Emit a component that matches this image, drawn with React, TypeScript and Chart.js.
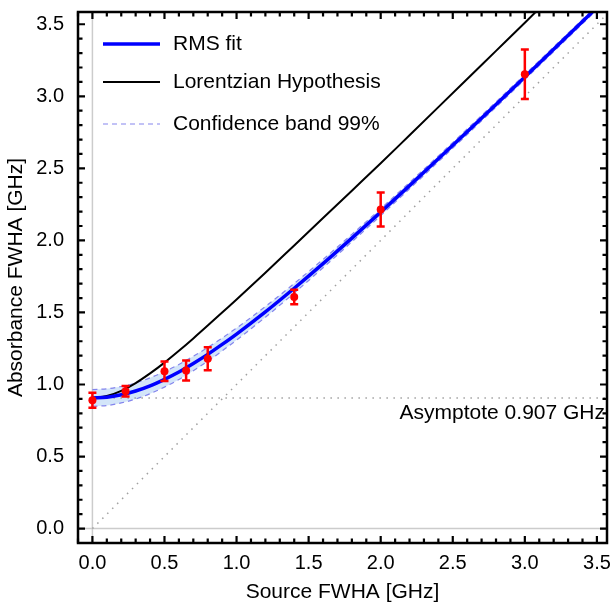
import React, { useEffect, useRef } from "react";
import { Chart, registerables } from "chart.js";

Chart.register(...registerables);

// ---- data ----
const gridX = [0, 0.1, 0.2, 0.3, 0.4, 0.5, 0.6, 0.7, 0.8, 0.9, 1.0, 1.2, 1.4, 1.6, 1.8, 2.0, 2.2, 2.4, 2.6, 2.8, 3.0, 3.2, 3.4, 3.6];
const rmsFit = [0.907, 0.912, 0.929, 0.955, 0.991, 1.036, 1.087, 1.146, 1.209, 1.278, 1.35, 1.504, 1.668, 1.839, 2.016, 2.196, 2.38, 2.566, 2.754, 2.943, 3.134, 3.326, 3.519, 3.712];
const bandUpper = [0.965, 0.97, 0.986, 1.011, 1.046, 1.09, 1.139, 1.196, 1.257, 1.323, 1.392, 1.541, 1.701, 1.868, 2.042, 2.22, 2.402, 2.586, 2.773, 2.961, 3.151, 3.342, 3.534, 3.726];
const bandLower = [0.849, 0.854, 0.872, 0.899, 0.936, 0.982, 1.035, 1.096, 1.161, 1.233, 1.308, 1.467, 1.635, 1.81, 1.99, 2.172, 2.358, 2.546, 2.735, 2.925, 3.117, 3.31, 3.504, 3.698];
const lorentzian = [0.907, 0.92, 0.956, 1.01, 1.077, 1.152, 1.234, 1.32, 1.409, 1.5, 1.59, 1.775, 1.965, 2.155, 2.345, 2.535, 2.73, 2.925, 3.12, 3.315, 3.51, 3.71, 3.91, 4.11];

const sourceFwha = [0, 0.23, 0.5, 0.65, 0.8, 1.4, 2.0, 3.0];
const absorbanceFwha = [0.89, 0.953, 1.092, 1.097, 1.178, 1.607, 2.215, 3.153];
const absorbanceErr = [0.052, 0.037, 0.067, 0.07, 0.08, 0.05, 0.118, 0.171];

const asymptote = 0.907;
const tickValues = [0, 0.5, 1.0, 1.5, 2.0, 2.5, 3.0, 3.5];
const legendLabels = ["RMS fit", "Lorentzian Hypothesis", "Confidence band 99%"];
const asymptoteLabel = "Asymptote 0.907 GHz";
const xTitle = "Source FWHA [GHz]";
const yTitle = "Absorbance FWHA [GHz]";

const X_MIN = -0.1;
const X_MAX = 3.57;
const Y_MIN = -0.1;
const Y_MAX = 3.585;

const FONT = "'Liberation Sans', Arial, Helvetica, sans-serif";
const BLUE = "#0000ff";
const BAND_LINE = "rgba(120,120,235,0.9)";
const BAND_FILL = "rgba(200,222,248,0.8)";
const DOT_GRAY = "#a0a0a0";

export default function App() {
  const ref = useRef<HTMLCanvasElement>(null);

  useEffect(() => {
    const canvas = ref.current;
    if (!canvas) return;
    const pts = (ys: number[]) => gridX.map((x, i) => ({ x, y: ys[i] }));

    const decor = {
      id: "decor",
      beforeDatasetsDraw(chart: any) {
        const { ctx, chartArea: a, scales } = chart;
        const xs = scales.x, ys = scales.y;
        ctx.save();
        ctx.strokeStyle = "#cccccc";
        ctx.lineWidth = 1.5;
        const x0 = xs.getPixelForValue(0);
        const y0 = ys.getPixelForValue(0);
        ctx.beginPath();
        ctx.moveTo(x0, a.top);
        ctx.lineTo(x0, a.bottom);
        ctx.moveTo(a.left, y0);
        ctx.lineTo(a.right, y0);
        ctx.stroke();
        ctx.restore();
      },
      afterDatasetsDraw(chart: any) {
        const { ctx, chartArea: a, scales } = chart;
        const xs = scales.x, ys = scales.y;
        ctx.save();
        // error bars
        ctx.strokeStyle = "#ff0000";
        ctx.lineWidth = 2.5;
        sourceFwha.forEach((sx, i) => {
          const px = xs.getPixelForValue(sx);
          const pTop = ys.getPixelForValue(absorbanceFwha[i] + absorbanceErr[i]);
          const pBot = ys.getPixelForValue(absorbanceFwha[i] - absorbanceErr[i]);
          ctx.beginPath();
          ctx.moveTo(px, pTop);
          ctx.lineTo(px, pBot);
          ctx.moveTo(px - 4, pTop);
          ctx.lineTo(px + 4, pTop);
          ctx.moveTo(px - 4, pBot);
          ctx.lineTo(px + 4, pBot);
          ctx.stroke();
        });

        // frame ticks (inward)
        ctx.strokeStyle = "#000";
        ctx.lineWidth = 2.2;
        ctx.beginPath();
        for (let k = -1; k <= 35; k++) {
          const v = k / 10;
          const major = k % 5 === 0;
          const len = major ? 7 : 4.5;
          if (v >= X_MIN && v <= X_MAX) {
            const px = xs.getPixelForValue(v);
            ctx.moveTo(px, a.bottom);
            ctx.lineTo(px, a.bottom - len);
            ctx.moveTo(px, a.top);
            ctx.lineTo(px, a.top + len);
          }
          if (v >= Y_MIN && v <= Y_MAX) {
            const py = ys.getPixelForValue(v);
            ctx.moveTo(a.left, py);
            ctx.lineTo(a.left + len, py);
            ctx.moveTo(a.right, py);
            ctx.lineTo(a.right - len, py);
          }
        }
        ctx.stroke();

        // frame
        ctx.lineWidth = 2.5;
        ctx.strokeRect(a.left, a.top, a.right - a.left, a.bottom - a.top);

        // legend
        ctx.font = `21px ${FONT}`;
        ctx.textBaseline = "middle";
        ctx.textAlign = "left";
        ctx.fillStyle = "#000";
        const lx0 = a.left + 25;
        const lx1 = a.left + 82;
        const tx = a.left + 95;
        const rows = [a.top + 32, a.top + 70, a.top + 112];
        // RMS fit
        ctx.strokeStyle = BLUE;
        ctx.lineWidth = 3.5;
        ctx.setLineDash([]);
        ctx.beginPath();
        ctx.moveTo(lx0, rows[0]);
        ctx.lineTo(lx1, rows[0]);
        ctx.stroke();
        ctx.fillText(legendLabels[0], tx, rows[0]);
        // Lorentzian
        ctx.strokeStyle = "#000";
        ctx.lineWidth = 2;
        ctx.beginPath();
        ctx.moveTo(lx0, rows[1]);
        ctx.lineTo(lx1, rows[1]);
        ctx.stroke();
        ctx.fillText(legendLabels[1], tx, rows[1]);
        // Confidence band
        ctx.strokeStyle = BAND_LINE;
        ctx.lineWidth = 1.2;
        ctx.setLineDash([5, 4]);
        ctx.beginPath();
        ctx.moveTo(lx0, rows[2]);
        ctx.lineTo(lx1, rows[2]);
        ctx.stroke();
        ctx.setLineDash([]);
        ctx.fillText(legendLabels[2], tx, rows[2]);

        // asymptote label
        ctx.textAlign = "right";
        ctx.fillText(asymptoteLabel, a.right - 2, ys.getPixelForValue(asymptote) + 15);
        ctx.restore();
      },
    };

    const chart = new Chart(canvas, {
      type: "scatter",
      data: {
        datasets: [
          {
            label: "Data",
            data: sourceFwha.map((x, i) => ({ x, y: absorbanceFwha[i] })),
            pointRadius: 4,
            pointBackgroundColor: "#ff0000",
            pointBorderWidth: 0,
            order: 0,
          },
          {
            label: legendLabels[0],
            data: pts(rmsFit),
            showLine: true,
            borderColor: BLUE,
            borderWidth: 3.5,
            pointRadius: 0,
            cubicInterpolationMode: "monotone",
            order: 1,
          },
          {
            label: legendLabels[1],
            data: pts(lorentzian),
            showLine: true,
            borderColor: "#000",
            borderWidth: 2,
            pointRadius: 0,
            cubicInterpolationMode: "monotone",
            order: 2,
          },
          {
            label: legendLabels[2],
            data: pts(bandUpper),
            showLine: true,
            borderColor: BAND_LINE,
            borderWidth: 1.2,
            borderDash: [5, 4],
            pointRadius: 0,
            cubicInterpolationMode: "monotone",
            fill: "+1",
            backgroundColor: BAND_FILL,
            order: 4,
          },
          {
            label: "band lower",
            data: pts(bandLower),
            showLine: true,
            borderColor: BAND_LINE,
            borderWidth: 1.2,
            borderDash: [5, 4],
            pointRadius: 0,
            cubicInterpolationMode: "monotone",
            order: 5,
          },
          {
            label: "asymptote",
            data: [
              { x: 0, y: asymptote },
              { x: X_MAX, y: asymptote },
            ],
            showLine: true,
            borderColor: DOT_GRAY,
            borderWidth: 1.5,
            borderDash: [1.5, 5.5],
            pointRadius: 0,
            order: 3,
          },
          {
            label: "identity",
            data: [
              { x: 0, y: 0 },
              { x: X_MAX, y: X_MAX },
            ],
            showLine: true,
            borderColor: DOT_GRAY,
            borderWidth: 1.5,
            borderDash: [1.5, 5.5],
            pointRadius: 0,
            order: 3,
          },
        ],
      },
      options: {
        animation: false,
        responsive: false,
        devicePixelRatio: 1,
        layout: { padding: { left: 0, right: 3, top: 12, bottom: 0 } },
        plugins: {
          legend: { display: false },
          tooltip: { enabled: false },
          filler: { drawTime: "beforeDatasetsDraw" },
        } as any,
        scales: {
          x: {
            type: "linear",
            min: X_MIN,
            max: X_MAX,
            grid: { display: false },
            border: { display: false },
            afterBuildTicks: (s: any) => {
              s.ticks = tickValues.map((v) => ({ value: v }));
            },
            afterFit: (s: any) => {
              s.height = 62;
              s.paddingLeft = 0;
              s.paddingRight = 0;
            },
            ticks: {
              font: { family: FONT, size: 20 },
              color: "#000",
              padding: 0,
              maxRotation: 0,
              autoSkip: false,
              callback: (v: any) => Number(v).toFixed(1),
            },
            title: {
              display: true,
              text: xTitle,
              font: { family: FONT, size: 21 },
              color: "#000",
              padding: { top: 0, bottom: 0 },
            },
          },
          y: {
            type: "linear",
            min: Y_MIN,
            max: Y_MAX,
            grid: { display: false },
            border: { display: false },
            afterBuildTicks: (s: any) => {
              s.ticks = tickValues.map((v) => ({ value: v }));
            },
            afterFit: (s: any) => {
              s.width = 78;
              s.paddingTop = 0;
              s.paddingBottom = 0;
            },
            ticks: {
              font: { family: FONT, size: 20 },
              color: "#000",
              padding: 6,
              autoSkip: false,
              callback: (v: any) => Number(v).toFixed(1),
            },
            title: {
              display: true,
              text: yTitle,
              font: { family: FONT, size: 21 },
              color: "#000",
              padding: { top: 3.5, bottom: 0 },
            },
          },
        },
      } as any,
      plugins: [decor],
    });

    return () => chart.destroy();
  }, []);

  return (
    <div style={{ position: "fixed", left: 0, top: 0, width: 611, height: 605, background: "#fff" }}>
      <canvas ref={ref} width={611} height={605} style={{ display: "block" }} />
    </div>
  );
}
